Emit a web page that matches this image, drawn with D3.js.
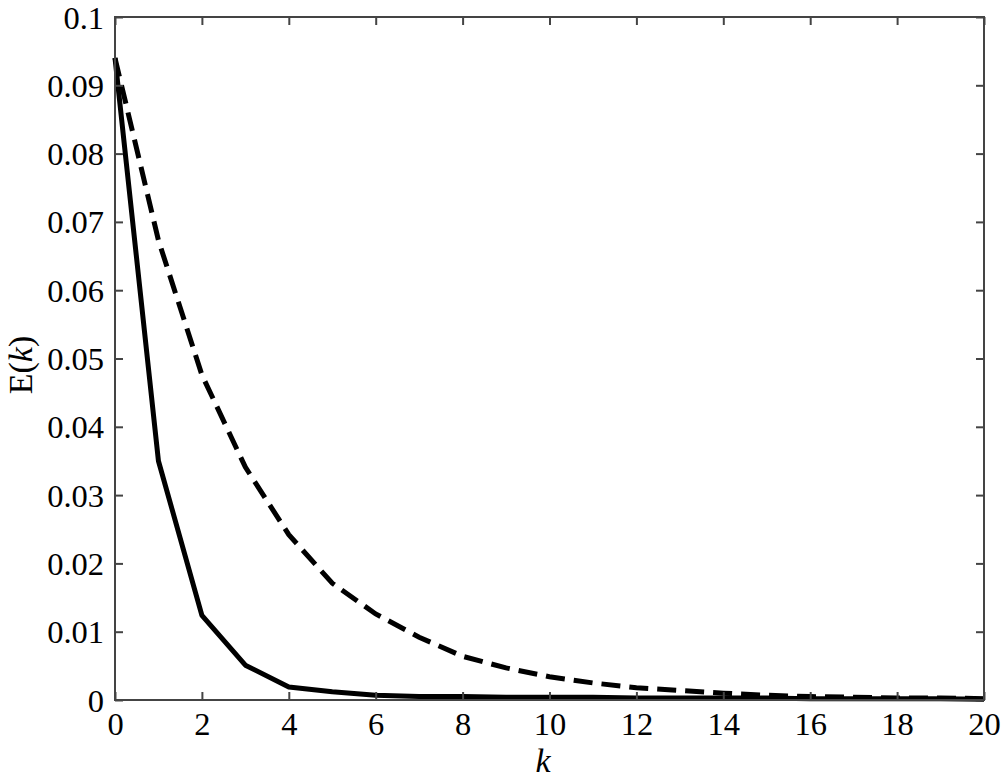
<!DOCTYPE html>
<html>
<head>
<meta charset="utf-8">
<script src="https://cdn.jsdelivr.net/npm/d3@7"></script>
<style>
  html, body { margin: 0; padding: 0; background: #fff; }
  svg { display: block; }
  svg text { font-family: 'Liberation Serif', 'Times New Roman', Times, 'DejaVu Serif', serif !important; fill: #000; }
</style>
</head>
<body>
<svg id="chart" width="1004" height="779"></svg>
<script>
// ---- data ----
const kValues = [0,1,2,3,4,5,6,7,8,9,10,11,12,13,14,15,16,17,18,19,20];
const solidE  = [0.094,0.0350,0.0124,0.0051,0.0019,0.0012,0.0007,0.0005,0.0005,0.0004,0.0004,0.0004,0.0003,0.0003,0.0003,0.0003,0.0002,0.0002,0.0002,0.0002,0.0001];
const dashedE = [0.094,0.0673,0.0476,0.0341,0.0242,0.0171,0.0126,0.0092,0.0064,0.0047,0.0034,0.0025,0.0018,0.0014,0.0010,0.0007,0.0005,0.0004,0.0003,0.0003,0.0002];
const xTicks = [0,2,4,6,8,10,12,14,16,18,20];
const yTicks = [0,0.01,0.02,0.03,0.04,0.05,0.06,0.07,0.08,0.09,0.1];
const yTickLabels = ["0","0.01","0.02","0.03","0.04","0.05","0.06","0.07","0.08","0.09","0.1"];

(function () {
// ---- layout ----
const L = 115, R = 984, T = 17, B = 700;
const svg = d3.select("#chart");
const x = d3.scaleLinear().domain([0,20]).range([L,R]);
const y = d3.scaleLinear().domain([0,0.1]).range([B,T]);
const axisColor = "#444";
const tickLen = 8;

// lines
const line = d3.line().x((d,i)=>x(kValues[i])).y(d=>y(d));
svg.append("path").datum(dashedE).attr("d", line)
  .attr("fill","none").attr("stroke","#000").attr("stroke-width",5)
  .attr("stroke-dasharray","19,9");
svg.append("path").datum(solidE).attr("d", line)
  .attr("fill","none").attr("stroke","#000").attr("stroke-width",5)
  .attr("stroke-linejoin","round");

// frame
svg.append("rect").attr("x",L).attr("y",T).attr("width",R-L).attr("height",B-T)
  .attr("fill","none").attr("stroke",axisColor).attr("stroke-width",2);

// axes (ticks inward)
const gBottom = svg.append("g").attr("transform",`translate(0,${B})`)
  .call(d3.axisBottom(x).tickValues(xTicks).tickSizeInner(-tickLen).tickSizeOuter(0).tickPadding(12).tickFormat(d3.format("d")));
const gTop = svg.append("g").attr("transform",`translate(0,${T})`)
  .call(d3.axisTop(x).tickValues(xTicks).tickSizeInner(-tickLen).tickSizeOuter(0).tickFormat(""));
const gLeft = svg.append("g").attr("transform",`translate(${L},0)`)
  .call(d3.axisLeft(y).tickValues(yTicks).tickSizeInner(-tickLen).tickSizeOuter(0).tickPadding(11).tickFormat((d,i)=>yTickLabels[i]));
const gRight = svg.append("g").attr("transform",`translate(${R},0)`)
  .call(d3.axisRight(y).tickValues(yTicks).tickSizeInner(-tickLen).tickSizeOuter(0).tickFormat(""));

[gBottom, gTop, gLeft, gRight].forEach(g => {
  g.attr("font-family", null);
  g.select(".domain").remove();
  g.selectAll(".tick line").attr("stroke",axisColor).attr("stroke-width",2);
  g.selectAll(".tick text").attr("font-size",32.5).attr("fill","#000");
});
gBottom.selectAll(".tick text").attr("dy","0.71em");
gLeft.selectAll(".tick text").attr("dy","0.34em");

// axis titles
const xt = svg.append("text").attr("x",543).attr("y",772).attr("text-anchor","middle")
  .attr("font-size",34);
xt.append("tspan").attr("font-style","italic").text("k");

const yt = svg.append("text").attr("transform","translate(32,365) rotate(-90)")
  .attr("text-anchor","middle").attr("font-size",34);
yt.append("tspan").text("E(");
yt.append("tspan").attr("font-style","italic").text("k");
yt.append("tspan").text(")");
})();
</script>
</body>
</html>
